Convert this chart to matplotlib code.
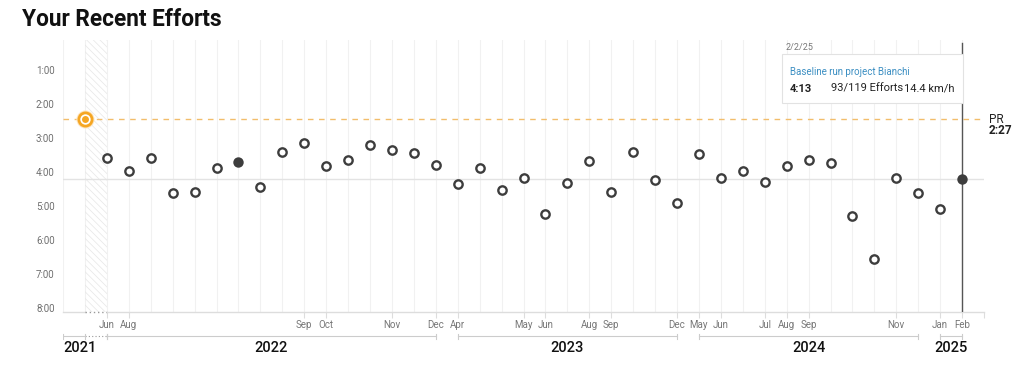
import matplotlib
matplotlib.use("Agg")
import matplotlib.pyplot as plt
from matplotlib.patches import Rectangle

# effort times (m:ss), one per session, oldest first; index 0 is the PR
efforts = ["2:27", "3:36", "3:59", "3:35", "4:37", "4:35", "3:53", "3:42", "4:26", "3:24",
           "3:09", "3:50", "3:39", "3:12", "3:21", "3:27", "3:47", "4:22", "3:53", "4:32",
           "4:10", "5:14", "4:20", "3:41", "4:35", "3:24", "4:15", "4:55", "3:29", "4:10",
           "3:58", "4:18", "3:50", "3:39", "3:44", "5:17", "6:33", "4:11", "4:38", "5:05",
           "4:13"]
pr_idx = 0
filled_idx = [7]
selected_idx = 40

month_pos = [1, 2, 10, 11, 14, 16, 17, 20, 21, 23, 24, 27, 28, 29, 31, 32, 33, 37, 39, 40]
month_labels = ["Jun", "Aug", "Sep", "Oct", "Nov", "Dec", "Apr", "May", "Jun", "Aug", "Sep",
                "Dec", "May", "Jun", "Jul", "Aug", "Sep", "Nov", "Jan", "Feb"]

years = ["2021", "2022", "2023", "2024", "2025"]
year_start = [-1, 1, 17, 28, 39]
year_end = [1, 16, 27, 38, 40]
gap = (0, 1)  # hatched break in the timeline

yticks = [1, 2, 3, 4, 5, 6, 7, 8]
ytick_labels = ["1:00", "2:00", "3:00", "4:00", "5:00", "6:00", "7:00", "8:00"]

tip_date = "2/2/25"
tip_name = "Baseline run project Bianchi"
tip_efforts = "93/119 Efforts"
tip_speed = "14.4 km/h"


def to_min(s):
    m, sec = s.split(":")
    return int(m) + int(sec) / 60


vals = [to_min(v) for v in efforts]
xs = list(range(len(vals)))

plt.rcParams['font.family'] = ['Roboto', 'DejaVu Sans']
W, H = 1024, 372
fig = plt.figure(figsize=(W / 100, H / 100), dpi=100)
L, R, T, B = 63, 984, 39.5, 311.7
ax = fig.add_axes([L / W, 1 - B / H, (R - L) / W, (B - T) / H])
ax.set_xlim(-1, 41)
ax.set_ylim(8.115, 0.1)
for s in ax.spines.values():
    s.set_visible(False)

# vertical grid
for i in range(-1, 41):
    ax.axvline(i, color="#f1f1f1", lw=0.8, zorder=0)

# hatched gap
plt.rcParams['hatch.linewidth'] = 0.5
ax.axvspan(gap[0], gap[1], facecolor="none", edgecolor="#e6e6e6", hatch="\\\\\\\\\\", lw=0, zorder=0)

# bottom axis line with dotted gap
xt = ax.get_xaxis_transform()
ax.plot([-1, gap[0]], [0, 0], color="#dddddd", lw=1, transform=xt, clip_on=False)
ax.plot([gap[0], gap[1]], [0, 0], color="#999999", lw=1, ls=(0, (1, 2)), transform=xt, clip_on=False)
ax.plot([gap[1], 41], [0, 0], color="#dddddd", lw=1, transform=xt, clip_on=False)

# PR line and current crosshair
pr = vals[pr_idx]
ax.axhline(pr, color="#f2bd6b", lw=1, ls=(0, (4, 4)), zorder=1)
ax.axhline(vals[selected_idx], color="#e3e3e3", lw=1, zorder=1)
ax.axvline(selected_idx, ymax=0.987, color="#555555", lw=1, zorder=2)

# points
open_x = [x for x in xs if x not in filled_idx and x != pr_idx and x != selected_idx]
ax.plot(open_x, [vals[x] for x in open_x], "o", ms=6, mfc="white", mec="#3d3d3d", mew=1.7,
        ls="none", zorder=4)
fx = filled_idx + [selected_idx]
ax.plot(fx, [vals[x] for x in fx], "o", ms=7.5, color="#3d3d3d", mew=0, ls="none", zorder=4)
ax.plot([pr_idx], [pr], "o", ms=13, color="#fde6c2", mew=0, zorder=4)
ax.plot([pr_idx], [pr], "o", ms=9.5, mfc="white", mec="#f5a623", mew=2, zorder=5)
ax.plot([pr_idx], [pr], "o", ms=5, color="#f5a623", mew=0, zorder=6)

ax.set_yticks(yticks)
ax.set_yticklabels(ytick_labels, fontsize=7, color="#6f6f6f")
ax.tick_params(axis="y", length=0, pad=6)
ax.set_xticks(month_pos + [41])
ax.set_xticklabels(month_labels + [""], fontsize=7, color="#777777")
ax.tick_params(axis="x", length=4, width=0.8, color="#dddddd", pad=2)

# PR label
ax.text(1.005, pr, "PR", transform=ax.get_yaxis_transform(), fontsize=8.5, color="#222222",
        va="center", ha="left")
ax.text(1.005, pr + 0.33, "2:27", transform=ax.get_yaxis_transform(), fontsize=8.5,
        color="#222222", weight="bold", va="center", ha="left")

# year band
ax2 = fig.add_axes([L / W, 0, (R - L) / W, 50 / H])
ax2.set_xlim(-1, 41)
ax2.set_ylim(372, 322)
ax2.axis("off")
for k, (y, a, b) in enumerate(zip(years, year_start, year_end)):
    if k == 0:
        ax2.plot([a, gap[0]], [336, 336], color="#cccccc", lw=0.8)
        ax2.plot([gap[0], gap[1]], [336, 336], color="#999999", lw=0.8, ls=(0, (1, 2)))
        for t in (a, gap[0], gap[1]):
            ax2.plot([t, t], [333.5, 338.5], color="#cccccc", lw=0.8)
        ax2.text(a, 348, y, fontsize=10.5, weight="medium", color="#111111", ha="left", va="center")
    else:
        ax2.plot([a, b], [336, 336], color="#cccccc", lw=0.8)
        for t in (a, b):
            ax2.plot([t, t], [333.5, 338.5], color="#cccccc", lw=0.8)
        ax2.text((a + b) / 2, 348, y, fontsize=10.5, weight="medium", color="#111111",
                 ha="center", va="center")

# title
fig.text(22 / W, 1 - 20 / H, "Your Recent Efforts", fontsize=16.3, weight="bold",
         color="#111111", ha="left", va="center")

# tooltip
fig.patches.append(Rectangle((782 / W, 1 - 103 / H), 181 / W, 49 / H, transform=fig.transFigure,
                             facecolor="white", edgecolor="#e2e2e2", lw=0.8, zorder=10))
fig.text(786 / W, 1 - 47 / H, tip_date, fontsize=6.5, color="#777777", va="center", zorder=11)
fig.text(790 / W, 1 - 72 / H, tip_name, fontsize=7, color="#3b8ec2", va="center", zorder=11)
fig.text(790 / W, 1 - 89 / H, efforts[selected_idx], fontsize=8, weight="bold", color="#222222",
         va="center", zorder=11)
fig.text(831 / W, 1 - 89 / H, tip_efforts, fontsize=8, color="#222222", va="center", zorder=11)
fig.text(954 / W, 1 - 89 / H, tip_speed, fontsize=8, color="#222222", va="center", ha="right",
         zorder=11)

fig.savefig("out.png", dpi=100)
